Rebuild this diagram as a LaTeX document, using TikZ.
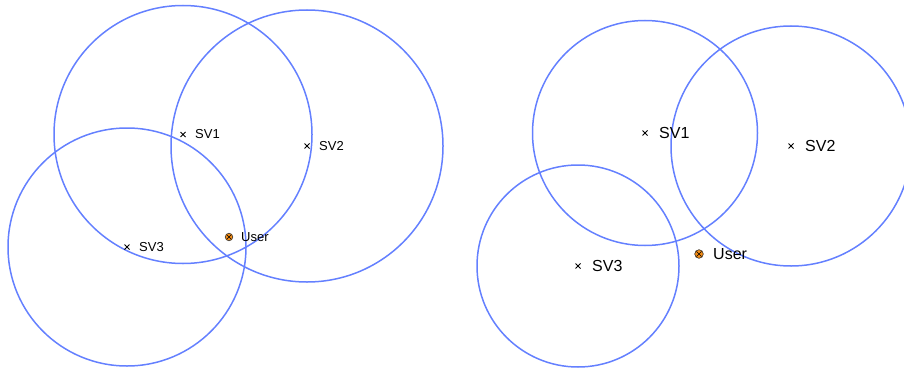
\documentclass[tikz,border=0pt]{standalone}
\usepackage{fontspec}
\setmainfont{Liberation Sans}
\usetikzlibrary{calc}
\definecolor{ringblue}{RGB}{100,128,255}
\definecolor{userorange}{RGB}{245,140,20}
\begin{document}
\begin{tikzpicture}[x=1pt,y=-1pt,
  ring/.style={draw=ringblue,line width=1.5pt},
  lblsmall/.style={anchor=west,inner sep=0pt,font=\fontsize{13}{13}\selectfont},
  lblbig/.style={anchor=west,inner sep=0pt,font=\fontsize{16}{16}\selectfont},
  crossline/.style={line width=0.8pt,black}]
\useasboundingbox (0,0) rectangle (904,369);
\newcommand{\crossat}[2]{\draw[crossline] ($(#1)+(-#2,-#2)$) -- ($(#1)+(#2,#2)$) ($(#1)+(-#2,#2)$) -- ($(#1)+(#2,-#2)$);}
\newcommand{\userat}[2]{\fill[userorange,draw=black!80,line width=0.6pt] (#1) circle (#2);
  \draw[black,line width=0.6pt] ($(#1)+(-0.6*#2,-0.6*#2)$) -- ($(#1)+(0.6*#2,0.6*#2)$) ($(#1)+(-0.6*#2,0.6*#2)$) -- ($(#1)+(0.6*#2,-0.6*#2)$);}
% left panel
\coordinate (a1) at (183,134.5);
\coordinate (a2) at (307,146);
\coordinate (a3) at (127,247);
\coordinate (au) at (229,237);
\draw[ring] (a1) circle (129);
\draw[ring] (a2) circle (136);
\draw[ring] (a3) circle (119);
\crossat{a1}{2.5}
\crossat{a2}{2.5}
\crossat{a3}{2.5}
\userat{au}{3.8}
\node[lblsmall] (la1) at ($(a1)+(12,0)$) {SV1};
\node[lblsmall] (la2) at ($(a2)+(12,0)$) {SV2};
\node[lblsmall] (la3) at ($(a3)+(12,0)$) {SV3};
\node[lblsmall] (lau) at ($(au)+(12,0)$) {User};
% right panel
\coordinate (b1) at (645,133);
\coordinate (b2) at (791,146);
\coordinate (b3) at (578,266);
\coordinate (bu) at (699,254);
\draw[ring] (b1) circle (112.5);
\draw[ring] (b2) circle (120);
\draw[ring] (b3) circle (101);
\crossat{b1}{2.5}
\crossat{b2}{2.5}
\crossat{b3}{2.5}
\userat{bu}{4.3}
\node[lblbig] (lb1) at ($(b1)+(14,0)$) {SV1};
\node[lblbig] (lb2) at ($(b2)+(14,0)$) {SV2};
\node[lblbig] (lb3) at ($(b3)+(14,0)$) {SV3};
\node[lblbig] (lbu) at ($(bu)+(14,0)$) {User};
\end{tikzpicture}
\end{document}
